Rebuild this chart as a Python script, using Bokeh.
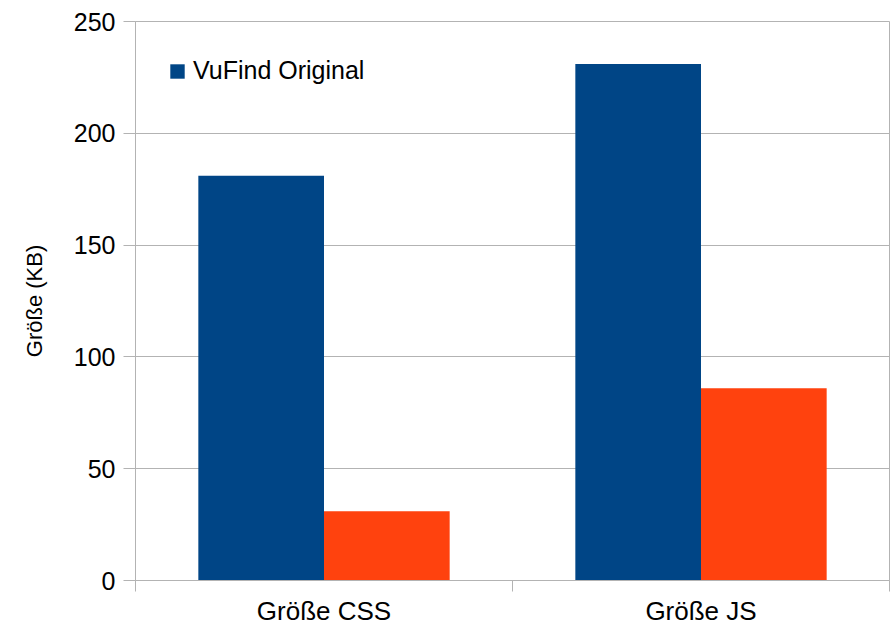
import numpy as np
from bokeh.plotting import figure
from bokeh.models import FixedTicker, Range1d, Legend, LegendItem
from bokeh.embed import file_html
from bokeh.resources import INLINE

categories = ["Größe CSS", "Größe JS"]
vufind_original = [181, 231]
second_series = [31, 86]
y_ticks = [0, 50, 100, 150, 200, 250]

BLUE = "#004586"
ORANGE = "#ff420e"
GRID = "#b3b3b3"
FONT = "Liberation Sans"

n = len(categories)
centers = np.arange(n) + 0.5
bar_w = 1.0 / 3.0

p = figure(width=891, height=628, output_backend="svg", toolbar_location=None,
           x_range=Range1d(0, n), y_range=Range1d(0, 250),
           min_border_left=135, min_border_right=2, min_border_top=21, min_border_bottom=47)

r1 = p.vbar(x=centers - bar_w / 2, top=vufind_original, width=bar_w, bottom=0,
            fill_color=BLUE, line_color=None)
r2 = p.vbar(x=centers + bar_w / 2, top=second_series, width=bar_w, bottom=0,
            fill_color=ORANGE, line_color=None)

# x axis: labels at category centers, ticks at category boundaries
p.xaxis.ticker = FixedTicker(ticks=list(centers), minor_ticks=list(np.arange(n + 1)))
p.xaxis.major_label_overrides = {float(c): lab for c, lab in zip(centers, categories)}
p.xaxis.major_tick_line_color = None
p.xaxis.major_tick_out = 0
p.xaxis.major_tick_in = 0
p.xaxis.minor_tick_line_color = GRID
p.xaxis.minor_tick_out = 11
p.xaxis.minor_tick_in = 0
p.xaxis.axis_line_color = GRID
p.xaxis.major_label_text_font = FONT
p.xaxis.major_label_text_font_size = "26px"
p.xaxis.major_label_text_color = "#000000"
p.xaxis.major_label_standoff = 4
p.xgrid.grid_line_color = None

# y axis
p.yaxis.ticker = FixedTicker(ticks=y_ticks)
p.yaxis.minor_tick_line_color = None
p.yaxis.major_tick_line_color = GRID
p.yaxis.major_tick_out = 12
p.yaxis.major_tick_in = 0
p.yaxis.axis_line_color = GRID
p.yaxis.major_label_text_font = FONT
p.yaxis.major_label_text_font_size = "25px"
p.yaxis.major_label_text_color = "#000000"
p.yaxis.major_label_standoff = 8
p.yaxis.axis_label = "Größe (KB)"
p.yaxis.axis_label_text_font = FONT
p.yaxis.axis_label_text_font_size = "22px"
p.yaxis.axis_label_text_font_style = "normal"
p.yaxis.axis_label_text_color = "#000000"
p.yaxis.axis_label_standoff = 24
p.ygrid.grid_line_color = GRID
p.ygrid.grid_line_width = 1

p.outline_line_color = GRID
p.background_fill_color = "white"
p.border_fill_color = "white"

legend = Legend(items=[LegendItem(label="VuFind Original", renderers=[r1])],
                location=(33, 495), orientation="vertical",
                background_fill_alpha=0, border_line_color=None,
                padding=0, margin=0, spacing=0,
                glyph_width=18, glyph_height=18, label_standoff=7,
                label_text_font=FONT, label_text_font_size="25px",
                label_text_color="#000000")
p.add_layout(legend, "center")

open("out.html", "w").write(file_html(p, INLINE))
